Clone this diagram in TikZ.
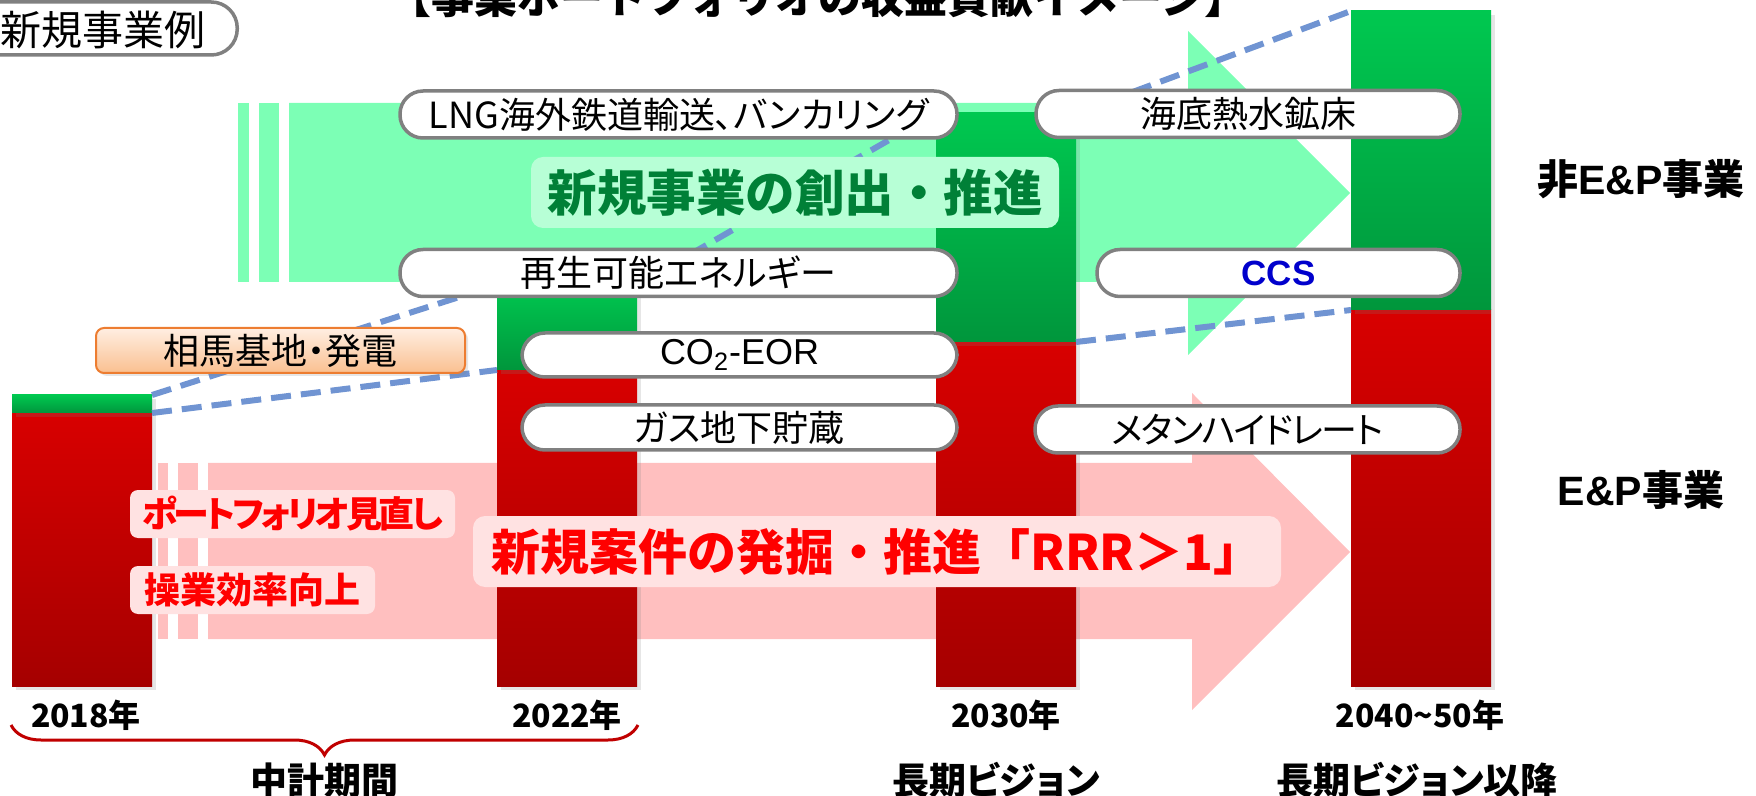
\documentclass[tikz,border=0pt]{standalone}
\usepackage{fontspec}
\newfontfamily\jp[RawFeature=+palt]{Noto Sans CJK JP}
\newfontfamily\jpw{Noto Sans CJK JP}
\newfontfamily\ari{Liberation Sans}
\usetikzlibrary{decorations.pathreplacing,shadows}

\definecolor{arrowgreen}{RGB}{124,255,181}
\definecolor{arrowpink}{RGB}{255,191,191}
\definecolor{bargreentop}{RGB}{0,200,80}
\definecolor{bargreenbot}{RGB}{0,150,60}
\definecolor{barredtop}{RGB}{216,0,0}
\definecolor{barredbot}{RGB}{165,0,0}
\definecolor{dashblue}{RGB}{112,148,210}
\definecolor{pillgray}{RGB}{128,128,128}
\definecolor{textgreen}{RGB}{0,128,55}
\definecolor{boxgreen}{RGB}{183,255,214}
\definecolor{boxpink}{RGB}{255,226,226}
\definecolor{somaedge}{RGB}{237,125,49}
\definecolor{somatop}{RGB}{255,238,226}
\definecolor{somabot}{RGB}{250,192,144}
\definecolor{bracered}{RGB}{192,0,0}
\definecolor{ccsblue}{RGB}{0,0,204}

\tikzset{
  barpart/.style={anchor=north west, inner sep=0pt, outer sep=0pt, minimum width=70pt,
    drop shadow={opacity=0.2, shadow xshift=2pt, shadow yshift=-2pt}},
  greenbar/.style={barpart, top color=bargreentop, bottom color=bargreenbot},
  redbar/.style={barpart, top color=barredtop, bottom color=barredbot},
  dashline/.style={dashblue, line width=3pt, dash pattern=on 10pt off 5pt},
  pill/.style={draw=pillgray, line width=1.75pt, fill=white, rounded corners=11.5pt,
    inner sep=0pt, minimum height=23.5pt, font=\jp\fontsize{18pt}{20pt}\selectfont},
  redlabel/.style={fill=boxpink, rounded corners=4pt, inner sep=0pt, minimum height=24pt,
    text=red, font=\jp\bfseries\fontsize{18pt}{20pt}\selectfont},
  yearlabel/.style={font=\jp\bfseries\fontsize{16pt}{18pt}\selectfont},
  periodlabel/.style={font=\jp\bfseries\fontsize{18.5pt}{20pt}\selectfont},
  sidelabel/.style={font=\bfseries\fontsize{20.5pt}{22pt}\selectfont}
}

\begin{document}
\begin{tikzpicture}[x=0.5pt, y=-0.5pt]
  \useasboundingbox (0,0) rectangle (1756,796);
  \clip (0,0) rectangle (1756,796);

  % arrows behind the bars
  \fill[arrowgreen] (289,103) -- (1188,103) -- (1188,31) -- (1350,193) -- (1188,355) -- (1188,282) -- (289,282) -- cycle;
  \fill[arrowgreen] (238,103) rectangle (249,282);
  \fill[arrowgreen] (259,103) rectangle (279,282);
  \fill[arrowpink] (208,463) -- (1192,463) -- (1192,393) -- (1350,552) -- (1192,710) -- (1192,639) -- (208,639) -- cycle;
  \fill[arrowpink] (158,463) rectangle (168,639);
  \fill[arrowpink] (178,463) rectangle (198,639);

  % bars
  \node[redbar, minimum height=136.5pt] (r18) at (12,413) {};
  \node[greenbar, minimum height=9pt] (g18) at (12,395) {};
  \node[redbar, minimum height=158pt] (r22) at (497,370) {};
  \node[greenbar, minimum height=42.5pt] (g22) at (497,285) {};
  \node[redbar, minimum height=172pt] (r30) at (936,342) {};
  \node[greenbar, minimum height=114.5pt] (g30) at (936,113) {};
  \node[redbar, minimum height=188pt] (r40) at (1351,310) {};
  \node[greenbar, minimum height=149.5pt] (g40) at (1351,11) {};

  \draw[dashline] (g18.north east) -- (g22.north west);
  \draw[dashline] (g22.north east) -- (g30.north west);
  \draw[dashline] (g30.north east) -- (g40.north west);
  \draw[dashline] (r18.north east) -- (r22.north west);
  \draw[dashline] (r22.north east) -- (r30.north west);
  \draw[dashline] (r30.north east) -- (r40.north west);

  \node[font=\jpw\bfseries\fontsize{21.5pt}{24pt}\selectfont, anchor=base] (title) at (818,14) {【事業ポートフォリオの収益貢献イメージ】};
  \node[pill, minimum width=139.5pt, minimum height=26.5pt, rounded corners=13pt, anchor=east] (exbox) at (239,28.5) {};
  \node[anchor=west, inner sep=0pt, font=\jp\fontsize{20.5pt}{22pt}\selectfont] (extext) at (0,30) {新規事業例};

  \node[pill, minimum width=278.5pt] (lng) at (678.5,114.5) {LNG海外鉄道輸送、バンカリング};
  \node[pill, minimum width=212pt] (kaitei) at (1248,114) {海底熱水鉱床};
  \node[pill, minimum width=278.5pt] (saisei) at (678.5,273) {再生可能エネルギー};
  \node[pill, minimum width=181.5pt, text=ccsblue, font=\ari\bfseries\fontsize{17.5pt}{20pt}\selectfont] (ccs) at (1278.5,273) {CCS};
  \node[pill, minimum width=217.5pt, minimum height=22pt, font=\ari\fontsize{18pt}{20pt}\selectfont] (co2eor) at (739.5,355) {CO\textsubscript{2}-EOR};
  \node[pill, minimum width=217.5pt, minimum height=22.5pt] (gas) at (739.5,427.5) {ガス地下貯蔵};
  \node[pill, minimum width=212.5pt] (metan) at (1247.5,429.5) {\addfontfeature{LetterSpace=-4}メタンハイドレート};

  \node[draw=somaedge, line width=1pt, top color=somatop, bottom color=somabot, rounded corners=4pt,
    inner sep=0pt, minimum width=184.5pt, minimum height=22.5pt,
    drop shadow={opacity=0.2, shadow xshift=1.5pt, shadow yshift=-1.5pt},
    font=\jp\fontsize{18pt}{20pt}\selectfont] (soma) at (280.5,350.5) {相馬基地・発電};

  \node[fill=boxgreen, rounded corners=6pt, inner sep=0pt, minimum width=264pt, minimum height=35.5pt,
    text=textgreen, font=\jpw\bfseries\fontsize{24.75pt}{28pt}\selectfont] (newbiz) at (795,192.5) {新規事業の創出・推進};
  \node[fill=boxpink, rounded corners=6pt, inner sep=0pt, minimum width=404pt, minimum height=35.5pt,
    text=red, font=\jpw\bfseries\fontsize{24.5pt}{28pt}\selectfont] (newproj) at (877,551.5) {新規案件の発掘・推進「RRR＞1」};
  \node[redlabel, minimum width=162.5pt] (review) at (292.5,514) {\addfontfeature{LetterSpace=-9}ポートフォリオ見直し};
  \node[redlabel, minimum width=122.5pt] (effic) at (252.5,590) {操業効率向上};

  \node[sidelabel] (nonep) at (1641,179) {\jp 非\ari E\&P\jp 事業};
  \node[sidelabel] (ep) at (1641,490) {\ari E\&P\jp 事業};

  \node[yearlabel] (y18) at (86,715) {2018年};
  \node[yearlabel] (y22) at (567,715) {2022年};
  \node[yearlabel] (y30) at (1006,715) {2030年};
  \node[yearlabel] (y40) at (1420,715) {2040\textasciitilde 50年};

  \draw[bracered, line width=1.5pt, decorate, decoration={brace, mirror, amplitude=15pt}] (11,725) -- (638,725);
  \node[periodlabel] (mid) at (324,780) {中計期間};
  \node[periodlabel] (longv) at (996,780) {長期ビジョン};
  \node[periodlabel] (after) at (1417,780) {長期ビジョン以降};
\end{tikzpicture}
\end{document}
